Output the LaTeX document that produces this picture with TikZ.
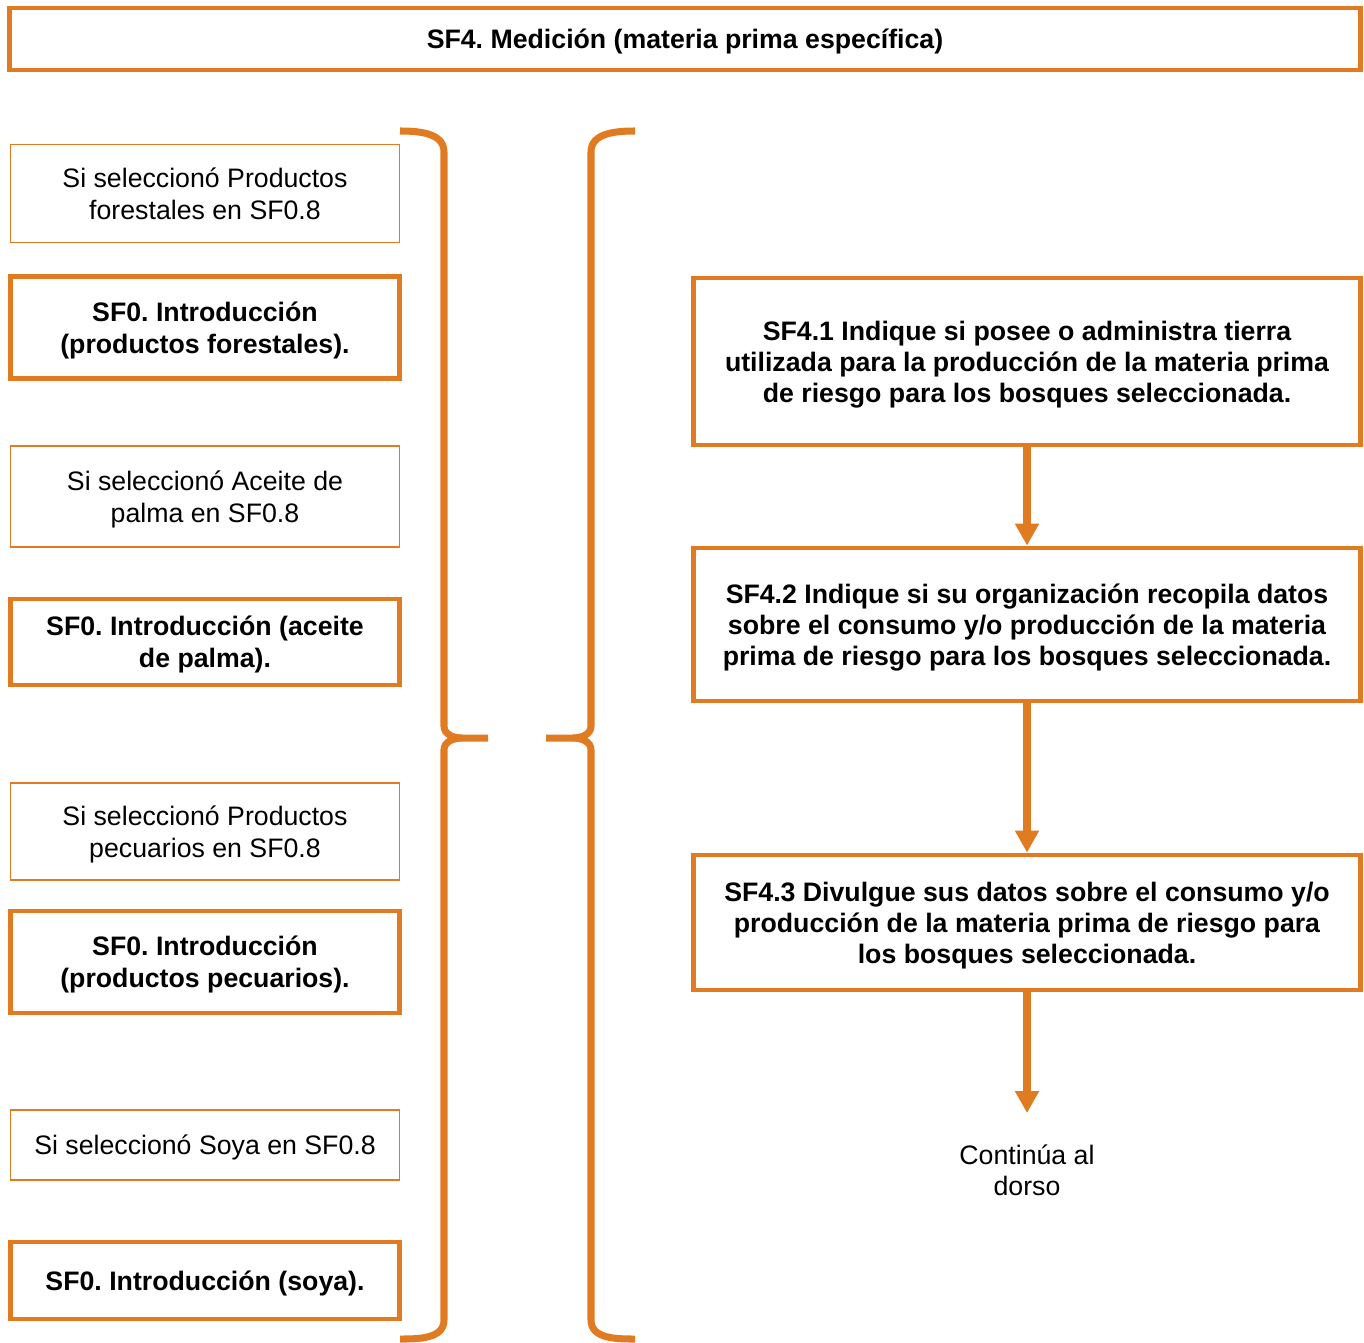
\documentclass[tikz,border=0pt]{standalone}
\usepackage{fontspec}
\setmainfont{Liberation Sans}
\usepackage{xcolor}
\usetikzlibrary{arrows.meta}
\definecolor{naranja}{RGB}{225,123,34}
\frenchspacing
\tikzset{
  txt/.style={font=\fontsize{15.2pt}{18pt}\selectfont,align=center,inner sep=0pt,text depth=0pt},
  opt/.style={txt,draw=naranja,line width=0.9pt,minimum width=7.78cm,minimum height=#1},
  sec/.style={txt,draw=naranja,line width=2.8pt,minimum width=7.78cm,minimum height=#1,font=\fontsize{15.2pt}{18pt}\selectfont\bfseries},
  pre/.style={txt,draw=naranja,line width=2.8pt,minimum width=13.34cm,minimum height=#1,font=\fontsize{15.2pt}{17.6pt}\selectfont\bfseries},
  fl/.style={draw=naranja,line width=4.5pt,-{Triangle[width=13pt,length=12.5pt]}},
  br/.style={draw=naranja,line width=4pt}
}
\begin{document}
\begin{tikzpicture}[x=0.02cm,y=-0.02cm]
\useasboundingbox (0,0) rectangle (1364,1342);
\node[txt,draw=naranja,line width=2.6pt,minimum width=27.02cm,minimum height=1.24cm,font=\fontsize{15.2pt}{17.6pt}\selectfont\bfseries] (titulo) at (685,39) {SF4. Medición (materia prima específica)};
% columna izquierda
\node[opt=1.96cm] (forSel) at (205,193.5) {Si seleccionó Productos\\forestales en SF0.8};
\node[sec=2.04cm] (forIntro) at (205,327.5) {SF0. Introducción\\(productos forestales).};
\node[opt=2.02cm] (palSel) at (205,496.5) {Si seleccionó Aceite de\\palma en SF0.8};
\node[sec=1.72cm] (palIntro) at (205,642) {SF0. Introducción (aceite\\de palma).};
\node[opt=1.94cm] (pecSel) at (205,831.5) {Si seleccionó Productos\\pecuarios en SF0.8};
\node[sec=2.04cm] (pecIntro) at (205,962) {SF0. Introducción\\(productos pecuarios).};
\node[opt=1.40cm] (soySel) at (205,1145) {Si seleccionó Soya en SF0.8};
\node[sec=1.54cm] (soyIntro) at (205,1280.5) {SF0. Introducción (soya).};
% llaves
\draw[br] (400,131) to[out=0,in=90] (444,152) -- (444,726) to[out=-90,in=180] (462,738) -- (488,738);
\draw[br] (462,738) to[out=180,in=90] (444,750) -- (444,1320) to[out=-90,in=0] (400,1339);
\draw[br] (635,131) to[out=180,in=90] (591,152) -- (591,726) to[out=-90,in=0] (573,738) -- (546,738);
\draw[br] (573,738) to[out=0,in=90] (591,750) -- (591,1320) to[out=-90,in=180] (635,1339);
% columna derecha
\node[pre=3.34cm] (sf41) at (1027,361.5) {SF4.1 Indique si posee o administra tierra\\utilizada para la producción de la materia prima\\de riesgo para los bosques seleccionada.};
\node[pre=3.06cm] (sf42) at (1027,624.5) {SF4.2 Indique si su organización recopila datos\\sobre el consumo y/o producción de la materia\\prima de riesgo para los bosques seleccionada.};
\node[pre=2.70cm] (sf43) at (1027,922.5) {SF4.3 Divulgue sus datos sobre el consumo y/o\\producción de la materia prima de riesgo para\\los bosques seleccionada.};
\node[txt] (dorso) at (1027,1170) {Continúa al\\dorso};
\coordinate (fin) at (1027,1113);
\draw[fl] (sf41) -- (sf42);
\draw[fl] (sf42) -- (sf43);
\draw[fl] (sf43) -- (fin);
\end{tikzpicture}
\end{document}
